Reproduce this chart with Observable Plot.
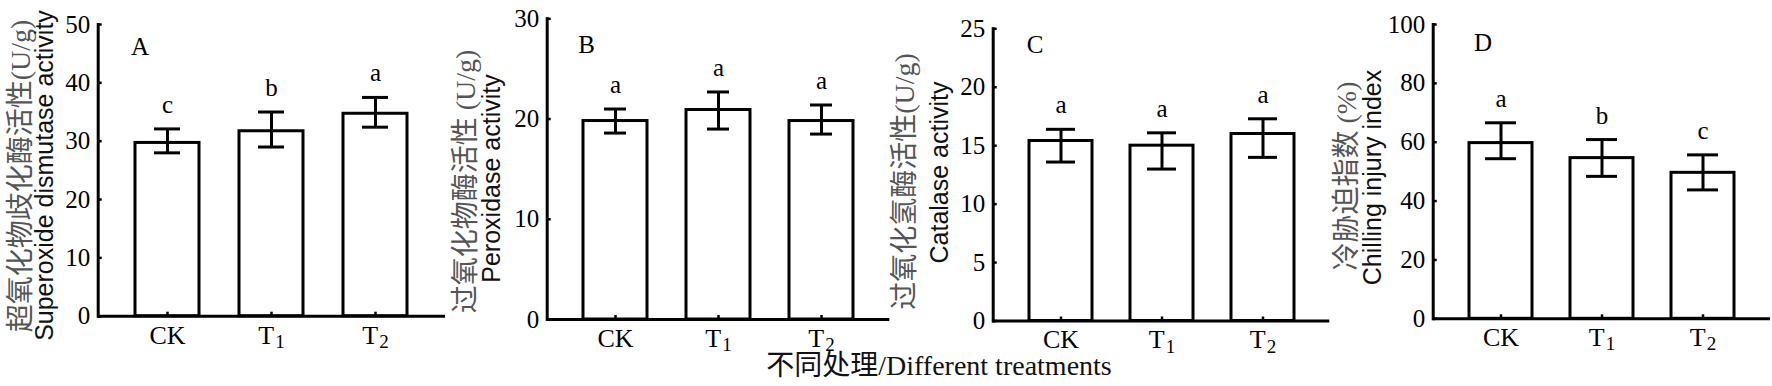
<!DOCTYPE html>
<html><head><meta charset="utf-8">
<script src="https://cdn.jsdelivr.net/npm/d3@7"></script>
<script src="https://cdn.jsdelivr.net/npm/@observablehq/plot@0.6"></script>
<style>
html,body{margin:0;padding:0;background:#fff;}
#wrap{position:relative;width:1772px;height:386px;overflow:hidden;background:#fff;}
#wrap svg{position:absolute;left:0;top:0;}
</style></head><body><div id="wrap"></div>
<script>
// ---- data ----
const categories = ["CK", "T1", "T2"];
const tickLabels = ["CK", "T₁", "T₂"];

const sodMean = [29.7, 31.7, 34.7];
const sodHi = [32.1, 35.0, 37.5];
const sodLo = [28.0, 29.0, 32.4];
const sodSig = ["c", "b", "a"];
const sodTicks = [0, 10, 20, 30, 40, 50];

const podMean = [19.8, 20.9, 19.8];
const podHi = [21.0, 22.7, 21.4];
const podLo = [18.6, 19.0, 18.5];
const podSig = ["a", "a", "a"];
const podTicks = [0, 10, 20, 30];

const catMean = [15.4, 15.0, 16.0];
const catHi = [16.4, 16.1, 17.3];
const catLo = [13.6, 13.0, 14.0];
const catSig = ["a", "a", "a"];
const catTicks = [0, 5, 10, 15, 20, 25];

const ciMean = [59.7, 54.6, 49.6];
const ciHi = [66.6, 60.9, 55.7];
const ciLo = [54.4, 48.4, 43.8];
const ciSig = ["a", "b", "c"];
const ciTicks = [0, 20, 40, 60, 80, 100];

const panelLetters = ["A", "B", "C", "D"];
const yLabelsZh = ["超氧化物歧化酶活性(U/g)", "过氧化物酶活性 (U/g)", "过氧化氢酶活性(U/g)", "冷胁迫指数 (%)"];
const yLabelsEn = ["Superoxide dismutase activity", "Peroxidase activity", "Catalase activity", "Chilling injury index"];
const xTitle = "不同处理/Different treatments";

// ---- layout (pixels) ----
const W = 1772, H = 386;
const layout = [
  {left: 97.7, right: 445, top: 24, bottom: 315.7, cap: 19, letter: [140, 55], zh: [20.5, 176], en: [53, 175.5]},
  {left: 546.7, right: 889.3, top: 18.3, bottom: 319, cap: 21, letter: [586.7, 53], zh: [465, 181.5], en: [499.6, 178.5]},
  {left: 992.7, right: 1329.3, top: 28.3, bottom: 320.5, cap: 17, letter: [1035, 53], zh: [904, 181.5], en: [948, 172.5]},
  {left: 1432.7, right: 1770, top: 24, bottom: 318.3, cap: 16, letter: [1483, 51], zh: [1346, 176], en: [1381.3, 177.5]}
];
const serif = "'Liberation Serif','Times New Roman',serif";
const serifZh = "'Liberation Serif','Noto Sans CJK SC',serif";
const sans = "'Liberation Sans',Arial,sans-serif";

function panel(i, means, his, los, sigs, ticks) {
  const L = layout[i];
  const data = categories.map((c, j) => ({cat: c, mean: means[j], hi: his[j], lo: los[j], sig: sigs[j]}));
  const fw = L.right - L.left, fh = L.bottom - L.top;
  const svg = Plot.plot({
    width: W, height: H,
    marginLeft: L.left, marginRight: W - L.right, marginTop: L.top, marginBottom: H - L.bottom,
    style: {background: "transparent", fontFamily: serif, fontSize: "25px", color: "#000", overflow: "visible"},
    x: {domain: categories, paddingInner: 0.38, paddingOuter: 0.35, label: null},
    y: {domain: [0, d3.max(ticks)], label: null},
    marks: [
      Plot.barY(data, {x: "cat", y: "mean", fill: "white", stroke: "black", strokeWidth: 3}),
      Plot.ruleX(data, {x: "cat", y1: "lo", y2: "hi", stroke: "black", strokeWidth: 3}),
      Plot.tickY(data, {x: "cat", y: "hi", insetLeft: L.cap, insetRight: L.cap, stroke: "black", strokeWidth: 3}),
      Plot.tickY(data, {x: "cat", y: "lo", insetLeft: L.cap, insetRight: L.cap, stroke: "black", strokeWidth: 3}),
      Plot.text(data, {x: "cat", y: "hi", text: "sig", dy: -16, lineAnchor: "bottom", fontSize: 25, fontFamily: serif, fill: "black"}),
      Plot.tickX(categories, {x: d => d, insetTop: fh - 4, stroke: "black", strokeWidth: 2.5}),
      Plot.tickY(ticks, {y: d => d, insetRight: fw - 4, stroke: "black", strokeWidth: 2.5}),
      Plot.ruleY([0], {stroke: "black", strokeWidth: 3}),
      Plot.frame({anchor: "left", stroke: "black", strokeWidth: 3}),
      Plot.axisY({ticks, tickSize: 0, tickPadding: 8, fontSize: 25, label: null}),
      Plot.axisX({tickSize: 0, tickPadding: 9, fontSize: 26, label: null,
                  tickFormat: d => tickLabels[categories.indexOf(d)]})
    ]
  });
  // render subscript digits of tick labels as lowered, smaller digits
  d3.select(svg).selectAll("text").each(function() {
    const el = d3.select(this);
    if (el.selectAll("tspan").size()) return;
    const s = el.text();
    const m = s.match(/^(.*?)([\u2080-\u2089]+)$/);
    if (m) {
      el.text(m[1]);
      el.append("tspan").attr("font-size", 19).attr("dx", 1).attr("dy", "0.22em")
        .text(m[2].replace(/[\u2080-\u2089]/g, c => String.fromCharCode(c.charCodeAt(0) - 0x2080 + 48)));
    }
  });
  return svg;
}

const wrap = document.getElementById("wrap");
wrap.appendChild(panel(0, sodMean, sodHi, sodLo, sodSig, sodTicks));
wrap.appendChild(panel(1, podMean, podHi, podLo, podSig, podTicks));
wrap.appendChild(panel(2, catMean, catHi, catLo, catSig, catTicks));
wrap.appendChild(panel(3, ciMean, ciHi, ciLo, ciSig, ciTicks));

// ---- titles / labels overlay ----
const overlay = d3.select(wrap).append("svg").attr("width", W).attr("height", H);
layout.forEach((L, i) => {
  overlay.append("text")
    .attr("transform", `translate(${L.zh[0]},${L.zh[1]}) rotate(-90)`)
    .attr("text-anchor", "middle").attr("dominant-baseline", "central")
    .attr("font-family", serifZh).attr("font-size", 28).attr("fill", "#555")
    .text(yLabelsZh[i]);
  overlay.append("text")
    .attr("transform", `translate(${L.en[0]},${L.en[1]}) rotate(-90)`)
    .attr("text-anchor", "middle")
    .attr("font-family", sans).attr("font-size", 25).attr("fill", "#111")
    .text(yLabelsEn[i]);
  overlay.append("text")
    .attr("x", L.letter[0]).attr("y", L.letter[1]).attr("text-anchor", "middle")
    .attr("font-family", serif).attr("font-size", 25).attr("fill", "#000")
    .text(panelLetters[i]);
});
overlay.append("text")
  .attr("x", 939).attr("y", 375).attr("text-anchor", "middle")
  .attr("font-family", serifZh).attr("font-size", 28).attr("fill", "#111")
  .text(xTitle);
</script>
</body></html>
